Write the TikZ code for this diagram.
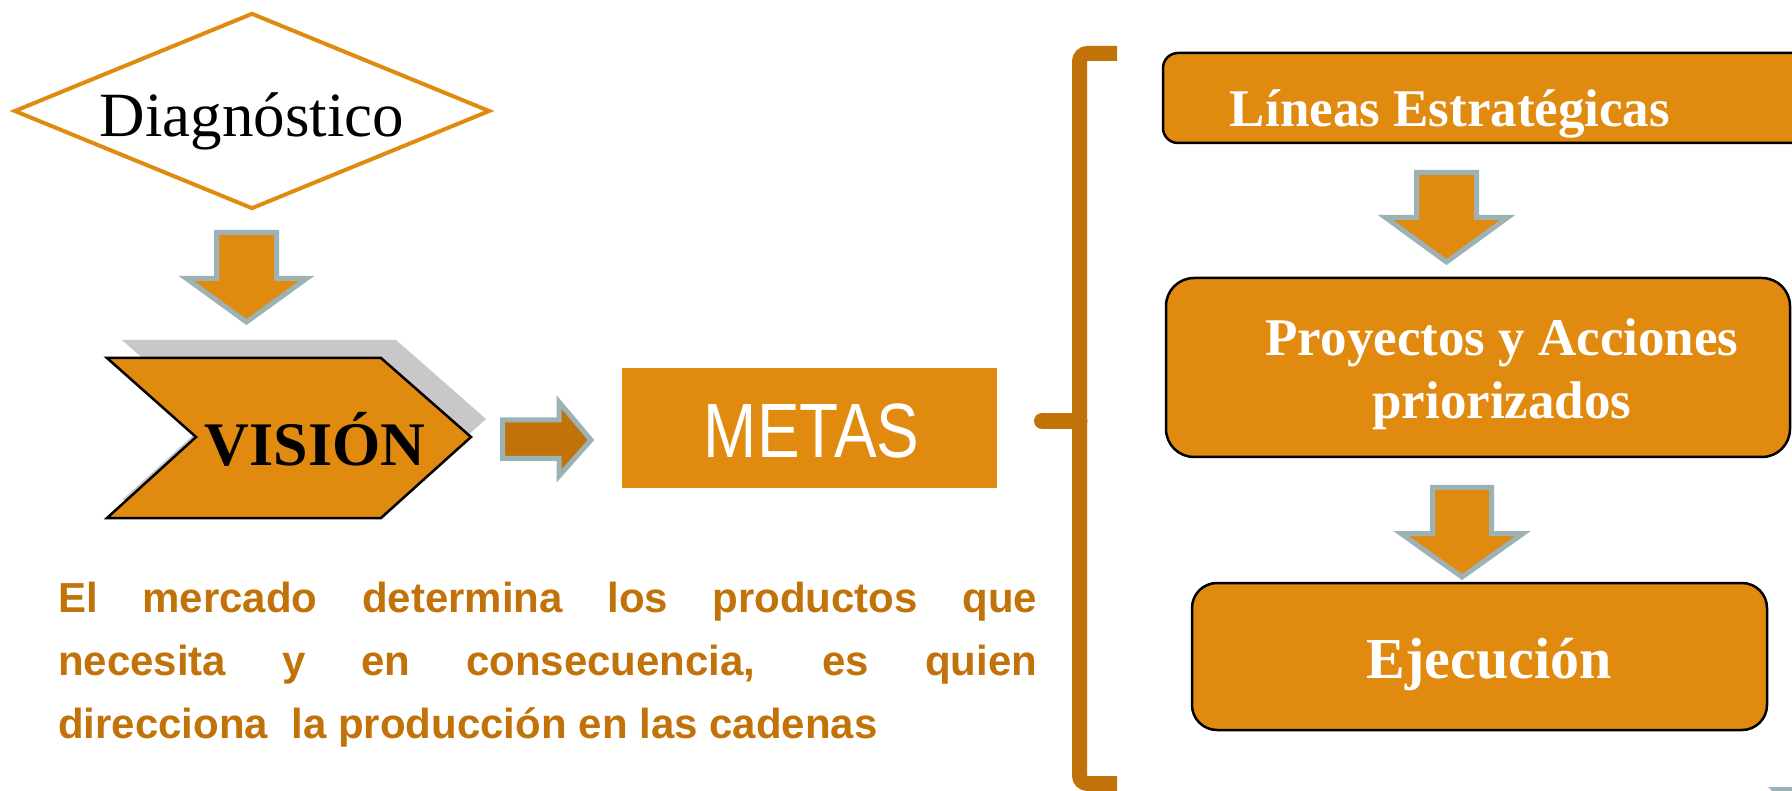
\documentclass[tikz,border=0pt]{standalone}
\usepackage{fontspec}
\setmainfont{Liberation Serif}
\newfontfamily\arialf{Liberation Sans}
\usepackage{graphicx}
\usetikzlibrary{shapes.geometric}
\definecolor{orangeF}{RGB}{224,138,16}
\definecolor{darkO}{RGB}{193,115,10}
\definecolor{grayO}{RGB}{156,178,181}
\definecolor{shadowG}{RGB}{200,200,200}
\newcommand{\fsz}[1]{\fontsize{#1}{#1}\selectfont}
% down block arrow: cx, top, shaft half width, head base y, head half width, tip y
\newcommand{\dnarrow}[6]{%
  \draw[blockarrow] (#1-#3,#2) -- (#1+#3,#2) -- (#1+#3,#4) -- (#1+#5,#4) -- (#1,#6)
    -- (#1-#5,#4) -- (#1-#3,#4) -- cycle;}
\begin{document}
\begin{tikzpicture}[x=1pt,y=-1pt,
  box/.style={draw=black, line width=2.5pt, fill=orangeF, rounded corners=#1, inner sep=0},
  box/.default=15pt,
  blockarrow/.style={draw=grayO, line width=5pt, fill=orangeF, line join=miter},
  lbl/.style={anchor=base, inner sep=0},
  wlbl/.style={lbl, text=white, font=\bfseries\fsz{53}},
  para/.style={anchor=base west, inner sep=0, text=darkO, font=\arialf\bfseries\fsz{42}}]
\clip (0,0) rectangle (1792,791);
\fill[white] (0,0) rectangle (1792,791);

% Diagnostico diamond
\node[diamond, draw=orangeF, line width=4pt, minimum width=476pt, minimum height=196pt, inner sep=0] (diag) at (252,111) {};
\node[lbl, font=\fsz{63}] (diagt) at (252,137) {Diagnóstico};

% arrow diag -> vision
\dnarrow{246.5}{232.5}{30}{278.5}{60}{322}

% VISION chevron with shadow
\fill[shadowG, shift={(15,-18)}] (107,358) -- (381,358) -- (471,437) -- (381,518) -- (107,518) -- (196,437) -- cycle;
\draw[fill=orangeF, line width=2.5pt, line join=miter] (107,358) -- (381,358) -- (471,437) -- (381,518) -- (107,518) -- (196,437) -- cycle;
\node[lbl, font=\bfseries\fsz{62}] (vis) at (315,466) {VISIÓN};

% arrow vision -> metas
\draw[blockarrow, fill=darkO] (502.5,420) -- (559,420) -- (559,402) -- (591,440) -- (559,476) -- (559,458.5) -- (502.5,458.5) -- cycle;

% METAS
\node[fill=orangeF, minimum width=375pt, minimum height=120pt, inner sep=0] (metas) at (809.5,428) {};
\node[lbl, text=white, font=\arialf\fsz{77}] (metast) at (811.7,457.7) {\scalebox{0.83}[1]{METAS}};

% paragraph
\node[para] (p1) at (58,612) {\makebox[979pt][s]{El mercado determina los productos que}};
\node[para] (p2) at (58,675) {\makebox[979pt][s]{necesita y en consecuencia, es quien}};
\node[para] (p3) at (58,738) {direcciona\ \ la producción en las cadenas};

% bracket
\draw[darkO, line width=15pt, rounded corners=8pt] (1117,53.5) -- (1079.5,53.5) -- (1079.5,783.5) -- (1117,783.5);
\draw[darkO, line width=16pt, line cap=round] (1079.5,421) -- (1042,421);

% right column
\node[box, minimum width=647pt, minimum height=90pt] (lin) at (1486.5,98) {};
\node[wlbl] (lint) at (1450,127) {Líneas Estratégicas};

\dnarrow{1446.5}{172.5}{30}{217.5}{61}{262}

\node[box=28pt, minimum width=624pt, minimum height=179pt] (proy) at (1478,367.5) {};
\node[wlbl] (proyt1) at (1502,356) {Proyectos y Acciones};
\node[wlbl] (proyt2) at (1502,419) {priorizados};

\dnarrow{1462}{487.5}{29.5}{533.5}{61}{577}

\node[box=25pt, minimum width=575pt, minimum height=147pt] (ejec) at (1479.5,656.5) {};
\node[wlbl, font=\bfseries\fsz{58}] (eject) at (1489,678) {Ejecución};

% partial arrow peeking at the bottom edge
\fill[grayO] (1768,787) -- (1792,787) -- (1792,791) -- (1772,791) -- cycle;
\end{tikzpicture}
\end{document}
